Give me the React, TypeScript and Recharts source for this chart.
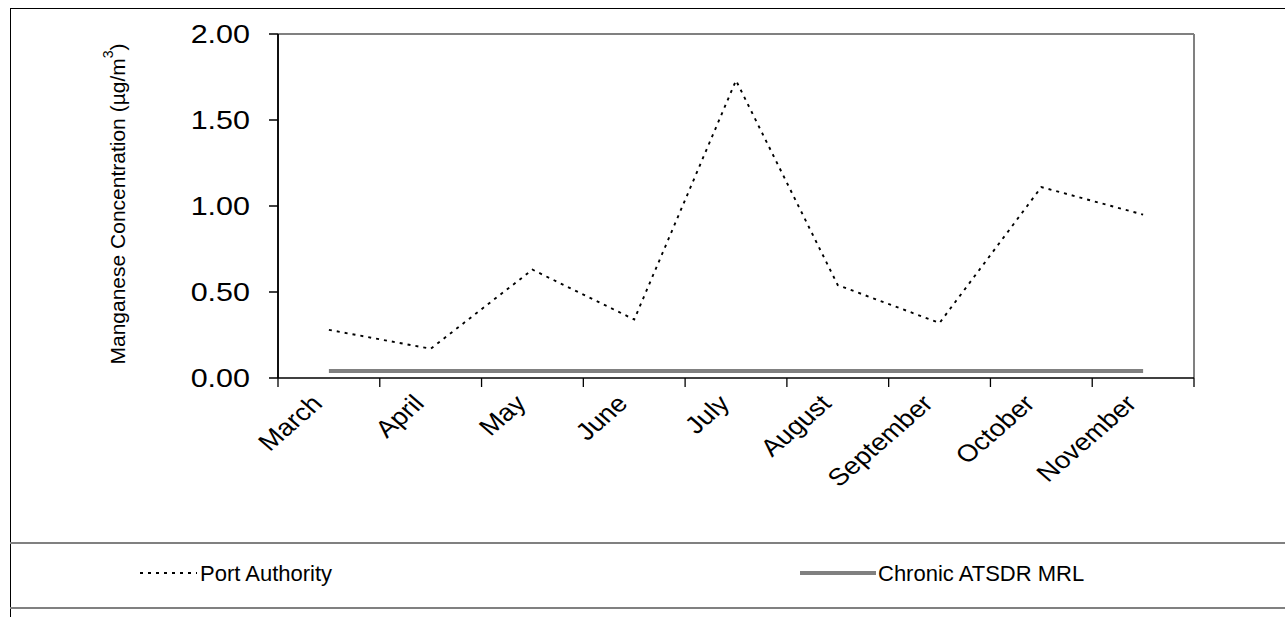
import { ComposedChart, Line, XAxis, YAxis, ReferenceLine } from "recharts";

const months = ["March", "April", "May", "June", "July", "August", "September", "October", "November"];
const portAuthority = [0.28, 0.17, 0.63, 0.34, 1.73, 0.54, 0.32, 1.11, 0.95];
const chronicMrl = [0.04, 0.04, 0.04, 0.04, 0.04, 0.04, 0.04, 0.04, 0.04];
const yTicks = [0, 0.5, 1, 1.5, 2];

const data = months.map((month, i) => ({
  month,
  port: portAuthority[i],
  mrl: chronicMrl[i],
}));

const FONT = "'Liberation Sans', Arial, sans-serif";
const GREY = "#808080";

// Excel-style category axis: tick marks sit between the categories, labels are slanted.
// The source picture is stretched sideways a little, so text is widened to match.
const MonthTick = ({ x, y, payload, index, visibleTicksCount }: any) => {
  const half = payload?.offset ?? 0;
  const ax = x - 5;
  const ay = y + 27;
  const last = index === visibleTicksCount - 1;
  return (
    <g>
      <line x1={x - half} y1={y} x2={x - half} y2={y + 9} stroke="#000" strokeWidth={1.3} />
      {last && <line x1={x + half} y1={y} x2={x + half} y2={y + 9} stroke="#000" strokeWidth={1.3} />}
      <text
        transform={`translate(${ax} ${ay}) scale(1.15 1) rotate(-45)`}
        textAnchor="end"
        fontSize={24}
        fontFamily={FONT}
        fill="#000"
      >
        {payload.value}
      </text>
    </g>
  );
};

const ValueTick = ({ x, y, payload }: any) => (
  <text
    transform={`translate(${x} ${y}) scale(1.22 1)`}
    textAnchor="end"
    dominantBaseline="central"
    fontSize={25}
    fontFamily={FONT}
    fill="#000"
  >
    {Number(payload.value).toFixed(2)}
  </text>
);

const YTitle = ({ viewBox }: any) => {
  const cx = (viewBox?.x ?? 0) + 117;
  const cy = (viewBox?.y ?? 0) + (viewBox?.height ?? 0) / 2 - 2;
  return (
    <text
      x={cx}
      y={cy}
      transform={`rotate(-90 ${cx} ${cy})`}
      textAnchor="middle"
      dominantBaseline="central"
      fontSize={21}
      fontFamily={FONT}
      fill="#000"
    >
      Manganese Concentration (µg/m
      <tspan dy={-9} fontSize={14}>3</tspan>
      <tspan dy={9}>)</tspan>
    </text>
  );
};

export default function App() {
  return (
    <div
      style={{
        position: "absolute",
        left: 0,
        top: 0,
        width: 1285,
        height: 617,
        overflow: "hidden",
        background: "#fff",
        fontFamily: FONT,
      }}
    >
      {/* outer frame */}
      <div
        style={{
          position: "absolute",
          left: 10,
          top: 8,
          width: 1300,
          height: 640,
          borderLeft: "1px solid #000",
          borderTop: "1.5px solid #000",
        }}
      />

      <div style={{ position: "absolute", left: 0, top: 0 }}>
        <ComposedChart
          width={1285}
          height={540}
          data={data}
          margin={{ top: 34, right: 91, bottom: 0, left: 0 }}
        >
          <XAxis
            dataKey="month"
            scale="band"
            height={162}
            interval={0}
            tickSize={0}
            tickMargin={0}
            tickLine={false}
            axisLine={{ stroke: "#000", strokeWidth: 1.5 }}
            tick={<MonthTick />}
          />
          <YAxis
            domain={[0, 2]}
            ticks={yTicks}
            width={278}
            tick={<ValueTick />}
            tickSize={9}
            tickMargin={19}
            stroke="#000"
            strokeWidth={1.5}
            label={<YTitle />}
          />
          <ReferenceLine y={2} stroke={GREY} strokeWidth={2} />
          <ReferenceLine x="March" position="start" stroke="#000" strokeWidth={1.5} />
          <ReferenceLine x="November" position="end" stroke={GREY} strokeWidth={2} />
          <Line
            dataKey="mrl"
            name="Chronic ATSDR MRL"
            stroke={GREY}
            strokeWidth={4}
            dot={false}
            type="linear"
            isAnimationActive={false}
          />
          <Line
            dataKey="port"
            name="Port Authority"
            stroke="#000"
            strokeWidth={1.9}
            strokeDasharray="3 5"
            dot={false}
            type="linear"
            isAnimationActive={false}
          />
        </ComposedChart>
      </div>

      {/* legend box */}
      <div
        style={{
          position: "absolute",
          left: 10,
          top: 542,
          width: 1300,
          height: 63,
          borderTop: `2px solid ${GREY}`,
          borderBottom: `2px solid ${GREY}`,
        }}
      />
      <svg
        width={1285}
        height={60}
        style={{ position: "absolute", left: 0, top: 544 }}
      >
        <line x1={140} y1={29} x2={197} y2={29} stroke="#000" strokeWidth={1.8} strokeDasharray="3 5" />
        <text x={200} y={29} dominantBaseline="central" fontSize={22} fontFamily={FONT} fill="#000">
          Port Authority
        </text>
        <line x1={800} y1={29} x2={876} y2={29} stroke={GREY} strokeWidth={4} />
        <text x={878} y={29} dominantBaseline="central" fontSize={22} fontFamily={FONT} fill="#000">
          Chronic ATSDR MRL
        </text>
      </svg>
    </div>
  );
}
